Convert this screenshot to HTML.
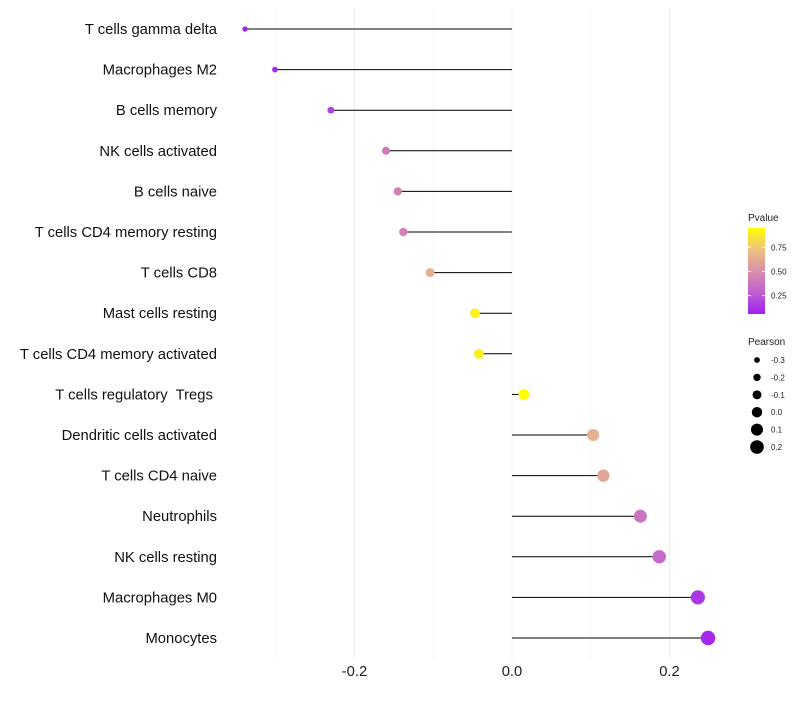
<!DOCTYPE html>
<html><head><meta charset="utf-8"><style>
body{margin:0;background:#fff;font-family:"Liberation Sans",sans-serif}
text{white-space:pre}
</style></head><body>
<svg id="chart" width="800" height="700"></svg>
<script>
const cells=["T cells gamma delta","Macrophages M2","B cells memory","NK cells activated","B cells naive","T cells CD4 memory resting","T cells CD8","Mast cells resting","T cells CD4 memory activated","T cells regulatory  Tregs ","Dendritic cells activated","T cells CD4 naive","Neutrophils","NK cells resting","Macrophages M0","Monocytes"];
const pearson=[-0.339,-0.301,-0.230,-0.160,-0.145,-0.138,-0.104,-0.047,-0.042,0.015,0.103,0.116,0.163,0.187,0.236,0.249];
const pvalue=[0.07,0.10,0.18,0.40,0.44,0.44,0.65,0.90,0.90,0.95,0.65,0.60,0.38,0.34,0.15,0.10];
const xTicks=[-0.2,0.0,0.2];
const xTickLabels=["-0.2","0.0","0.2"];
const gridMinor=[-0.3,-0.1,0.1];
const pTicks=[0.25,0.5,0.75];
const pTickLabels=["0.25","0.50","0.75"];
const sizeLegend=[-0.3,-0.2,-0.1,0.0,0.1,0.2];
const sizeLegendLabels=["-0.3","-0.2","-0.1","0.0","0.1","0.2"];

const NS="http://www.w3.org/2000/svg";
const svg=document.getElementById('chart');
function el(t,a,p){const e=document.createElementNS(NS,t);for(const k in a)e.setAttribute(k,a[k]);(p||svg).appendChild(e);return e;}
const x=v=>512+v*787.5;
const y=i=>29+i*40.6;
const rad=v=>2.6+(v+0.34)/0.59*4.6;
const pMin=0.07,pMax=0.95;
const stops=[[160,32,240],[192,96,208],[217,144,168],[237,192,128],[255,255,0]];
function col(p){let t=Math.max(0,Math.min(1,(p-pMin)/(pMax-pMin)))*4;let i=Math.min(3,Math.floor(t)),f=t-i;const a=stops[i],b=stops[i+1];return `rgb(${a.map((c,k)=>Math.round(c+(b[k]-c)*f)).join(',')})`;}

[...xTicks,...gridMinor].forEach(v=>{const g=el('line',{x1:x(v),x2:x(v),y1:8,y2:660,stroke:'#f0f0f0','stroke-width':xTicks.includes(v)?1:0.6});

});
xTicks.forEach((v,i)=>{const t=el('text',{x:x(v),y:676,'text-anchor':'middle','font-size':14.8,fill:'#222'});t.textContent=xTickLabels[i];

});
cells.forEach((c,i)=>{
const t=el('text',{x:217,y:y(i)+5,'text-anchor':'end','font-size':14.8,fill:'#111'});t.textContent=c;


const l=el('line',{x1:x(0),x2:x(pearson[i]),y1:y(i),y2:y(i),stroke:'#000','stroke-width':1});


const d=el('circle',{cx:x(pearson[i]),cy:y(i),r:rad(pearson[i]),fill:col(pvalue[i])});


});
const defs=el('defs',{});const lg=el('linearGradient',{id:'pg',x1:0,y1:1,x2:0,y2:0},defs);
stops.forEach((s,i)=>el('stop',{offset:i/4,'stop-color':`rgb(${s.join(',')})`},lg));
const lt=el('text',{x:748,y:221,'font-size':10,fill:'#222'});lt.textContent='Pvalue';


const bar=el('rect',{x:748,y:228,width:17,height:86,fill:'url(#pg)'});


const py=p=>313-(p-pMin)/(pMax-pMin)*85;
pTicks.forEach((p,i)=>{el('line',{x1:748,x2:751,y1:py(p),y2:py(p),stroke:'#fff'});el('line',{x1:762,x2:765,y1:py(p),y2:py(p),stroke:'#fff'});
const t=el('text',{x:771,y:py(p)+3,'font-size':8,fill:'#222'});t.textContent=pTickLabels[i];

});
const st=el('text',{x:748,y:345,'font-size':10,fill:'#222'});st.textContent='Pearson';


sizeLegend.forEach((v,i)=>{const cy=360+i*17.4;
const c=el('circle',{cx:757,cy:cy,r:rad(v),fill:'#000'});


const t=el('text',{x:771,y:cy+3,'font-size':8,fill:'#222'});t.textContent=sizeLegendLabels[i];

});
</script>
</body></html>
